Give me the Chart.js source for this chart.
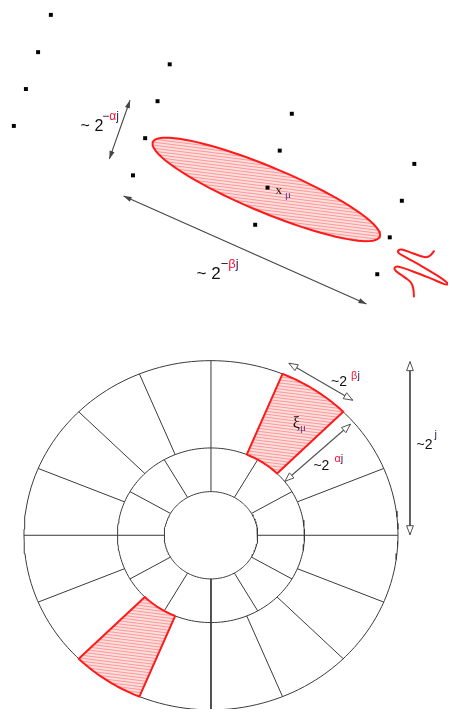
<!DOCTYPE html>
<html>
<head>
<meta charset="utf-8">
<script src="https://cdn.jsdelivr.net/npm/chart.js@4.4.1/dist/chart.umd.min.js"></script>
<style>
  html, body { margin: 0; padding: 0; background: #fff; overflow: hidden; }
  #wrap { width: 452px; height: 713px; }
</style>
</head>
<body>
<div id="wrap"><canvas id="c" width="452" height="713"></canvas></div>
<script>
// ---- Spatial side: sample lattice --------------------------------------
const sampleX = [47.7, 34.7, 22.3, 10.0, 168.7, 156.3, 143.7, 131.3,
                 293.0, 280.7, 268.3, 255.7, 417.7, 405.0, 392.7, 380.0];
const sampleY = [11.0, 48.7, 86.0, 123.3, 61.0, 98.3, 135.7, 173.3,
                 111.0, 148.3, 185.7, 223.3, 161.7, 199.0, 236.0, 273.3];

// Anisotropic atom: centre, half-axes (length, width), tilt in degrees
const atomCenter = [267, 187.5];
const atomAxes = [125, 23];
const atomTilt = 22.5;

// Oscillating profile across the atom
const profileX = [437.7, 435.0, 431.7, 426.7, 416.7, 405.0, 401.7, 401.7, 408.3, 425.0,
                  441.7, 450.0, 451.7, 448.3, 435.0, 415.0, 401.7, 397.7, 399.0, 408.3,
                  414.3, 416.7, 417.3];
const profileY = [250.0, 253.3, 255.7, 255.7, 252.3, 248.3, 249.0, 251.7, 255.7, 265.0,
                  275.0, 281.0, 283.3, 283.3, 277.7, 270.0, 265.7, 266.7, 270.0, 276.7,
                  281.7, 288.3, 295.7];

// ---- Frequency side: dyadic coronae split into angular wedges -----------
const ringRadii = [1, 2, 4];
const wedgesPerRing = [12, 16];
const highlightWedges = [1, 9];        // wedge indices in the outer corona
const tilingCenter = [210.7, 537.3];
const tilingUnit = [47.6, 44.15];

// ---- Annotations -------------------------------------------------------
const arrowsSolid = [[128.3, 97.3, 107.3, 156.7], [121.7, 194.3, 369.0, 303.3]];
const arrowsOpen = [[290.0, 363.3, 355.0, 400.7], [352.7, 425.0, 286.0, 482.7],
                    [413.3, 361.7, 413.3, 536.7]];
const labelBase = ['~ 2', '~ 2', 'x', '~2', '~2', '~2', 'ξ'];
const labelScript = [['−', 'α', 'j'], ['−', 'β', 'j'], ['μ'], ['β', 'j'], ['α', 'j'], ['j'], ['μ']];
const labelAnchorX = [78, 196, 276.5, 333, 315, 420, 294];
const labelAnchorY = [128.5, 278.5, 192.5, 386, 471.5, 450, 429];

// layout for each label: base size, script size, script dx, script dy, family
const labelStyle = [
  [16, 12, -1, -11, 'sans'], [17, 13, 0, -11, 'sans'], [13, 11, 3, 3.5, 'serif'],
  [14, 11, 4, -7, 'sans'], [14, 11, 5, -8.5, 'sans'], [14, 11, 2, -10.5, 'sans'],
  [16, 11, 0, 2.5, 'serif']
];

const RED = '#ff1a1a';
const GRID = '#3a3a3a';

function hatchPattern() {
  const t = document.createElement('canvas');
  t.width = 24; t.height = 3;
  const g = t.getContext('2d');
  g.fillStyle = '#ffdede';
  g.fillRect(0, 0, 24, 3);
  g.strokeStyle = 'rgba(255,110,110,0.8)';
  g.lineWidth = 0.8;
  for (const off of [-3, 0, 3]) {
    g.beginPath();
    g.moveTo(0, off);
    g.lineTo(24, off + 3);
    g.stroke();
  }
  return g.createPattern(t, 'repeat');
}
const hatch = hatchPattern();

function tilingPoint(r, deg) {
  const a = deg * Math.PI / 180;
  return {
    x: tilingCenter[0] + r * tilingUnit[0] * Math.sin(a),
    y: tilingCenter[1] - r * tilingUnit[1] * Math.cos(a)
  };
}

function atomOutline() {
  const pts = [];
  const th = atomTilt * Math.PI / 180;
  for (let d = 0; d <= 360; d += 4) {
    const t = d * Math.PI / 180;
    const u = atomAxes[0] * Math.cos(t), v = atomAxes[1] * Math.sin(t);
    pts.push({ x: atomCenter[0] + u * Math.cos(th) - v * Math.sin(th),
               y: atomCenter[1] + u * Math.sin(th) + v * Math.cos(th) });
  }
  return pts;
}

function wedgeOutline(k) {
  const n = wedgesPerRing[1];
  const a0 = k * 360 / n, a1 = (k + 1) * 360 / n;
  const rIn = ringRadii[1], rOut = ringRadii[2];
  const pts = [];
  for (let i = 0; i <= 12; i++) pts.push(tilingPoint(rIn, a0 + (a1 - a0) * i / 12));
  for (let i = 12; i >= 0; i--) pts.push(tilingPoint(rOut, a0 + (a1 - a0) * i / 12));
  pts.push(pts[0]);
  return pts;
}

// earlier entries are painted last, i.e. on top
const datasets = [];

// samples (on top of everything)
datasets.push({ type: 'scatter', data: sampleX.map((x, i) => ({ x, y: sampleY[i] })),
                pointStyle: 'rect', pointRadius: 2.8, backgroundColor: '#000',
                borderWidth: 0 });
// highlighted wedges (over the grid)
for (const k of highlightWedges) {
  datasets.push({ type: 'line', data: wedgeOutline(k), borderColor: RED, borderWidth: 2,
                  pointRadius: 0, tension: 0, shapeFill: hatch, borderJoinStyle: 'round' });
}
// the atom
datasets.push({ type: 'line', data: atomOutline(), borderColor: RED, borderWidth: 2,
                pointRadius: 0, tension: 0, shapeFill: hatch });
// oscillating profile
datasets.push({ type: 'line', data: profileX.map((x, i) => ({ x, y: profileY[i] })),
                borderColor: RED, borderWidth: 2, pointRadius: 0, tension: 0.4,
                borderCapStyle: 'round' });
// corona boundaries
for (const r of ringRadii) {
  const pts = [];
  for (let d = 0; d <= 360; d += 2) pts.push(tilingPoint(r, d));
  datasets.push({ type: 'line', data: pts, borderColor: GRID, borderWidth: 1,
                  pointRadius: 0, tension: 0 });
}
// wedge spokes
wedgesPerRing.forEach((n, ring) => {
  for (let k = 0; k < n; k++) {
    const a = k * 360 / n;
    datasets.push({ type: 'line',
                    data: [tilingPoint(ringRadii[ring], a), tilingPoint(ringRadii[ring + 1], a)],
                    borderColor: GRID, borderWidth: 1, pointRadius: 0 });
  }
});

// fills closed outlines just before the outline itself is stroked
const shapeFillPlugin = {
  id: 'shapeFill',
  beforeDatasetDraw(chart, args) {
    const ds = chart.data.datasets[args.index];
    if (!ds.shapeFill) return;
    const pts = args.meta.data;
    const ctx = chart.ctx;
    ctx.save();
    ctx.beginPath();
    pts.forEach((p, i) => (i ? ctx.lineTo(p.x, p.y) : ctx.moveTo(p.x, p.y)));
    ctx.closePath();
    ctx.fillStyle = ds.shapeFill;
    ctx.fill();
    ctx.restore();
  }
};

function arrowHead(ctx, x1, y1, x2, y2, open) {
  const a = Math.atan2(y2 - y1, x2 - x1);
  const L = open ? 9 : 8, W = open ? 3.4 : 2.6;
  const bx = x2 - L * Math.cos(a), by = y2 - L * Math.sin(a);
  ctx.beginPath();
  ctx.moveTo(x2, y2);
  ctx.lineTo(bx + W * Math.sin(a), by - W * Math.cos(a));
  ctx.lineTo(bx - W * Math.sin(a), by + W * Math.cos(a));
  ctx.closePath();
  if (open) {
    ctx.fillStyle = '#fff';
    ctx.fill();
    ctx.stroke();
  } else {
    ctx.fill();
  }
}

function scriptColor(s) {
  if (s === 'α' || s === 'β') return '#ff1030';
  if (s === 'j') return '#2a2860';
  if (s === 'μ') return '#5a2f8f';
  return '#1a1a1a';
}

const annotationPlugin = {
  id: 'annotations',
  afterDatasetsDraw(chart) {
    const { ctx, scales: { x, y } } = chart;
    ctx.save();
    ctx.lineJoin = 'miter';
    // double-headed arrows
    const drawArrow = (seg, open, color, width) => {
      const x1 = x.getPixelForValue(seg[0]), y1 = y.getPixelForValue(seg[1]);
      const x2 = x.getPixelForValue(seg[2]), y2 = y.getPixelForValue(seg[3]);
      ctx.strokeStyle = color;
      ctx.fillStyle = color;
      ctx.lineWidth = width;
      ctx.beginPath();
      ctx.moveTo(x1, y1);
      ctx.lineTo(x2, y2);
      ctx.stroke();
      ctx.lineWidth = 1;
      arrowHead(ctx, x1, y1, x2, y2, open);
      arrowHead(ctx, x2, y2, x1, y1, open);
    };
    arrowsSolid.forEach(s => drawArrow(s, false, '#444', 1.1));
    arrowsOpen.forEach((s, i) => drawArrow(s, true, '#505050', i === 2 ? 1.8 : 1.1));

    // labels with superscripts / subscripts
    ctx.textBaseline = 'alphabetic';
    labelBase.forEach((base, i) => {
      const [bs, ss, dx, dy, fam] = labelStyle[i];
      const family = fam === 'serif' ? '"Liberation Serif", "DejaVu Serif", serif'
                                     : '"Liberation Sans", Arial, sans-serif';
      const px = x.getPixelForValue(labelAnchorX[i]);
      const py = y.getPixelForValue(labelAnchorY[i]);
      ctx.font = `${bs}px ${family}`;
      ctx.fillStyle = '#111';
      ctx.fillText(base, px, py);
      let sx = px + ctx.measureText(base).width + dx;
      ctx.font = `${ss}px ${family}`;
      for (const s of labelScript[i]) {
        ctx.fillStyle = scriptColor(s);
        ctx.fillText(s, sx, py + dy);
        sx += ctx.measureText(s).width;
      }
    });
    ctx.restore();
  }
};

new Chart(document.getElementById('c'), {
  type: 'scatter',
  data: { datasets },
  options: {
    responsive: false,
    devicePixelRatio: 1,
    animation: false,
    layout: { padding: 0 },
    plugins: { legend: { display: false }, tooltip: { enabled: false } },
    scales: {
      x: { type: 'linear', min: 0, max: 452, display: false },
      y: { type: 'linear', min: 0, max: 713, reverse: true, display: false }
    },
    elements: { line: { capBezierPoints: false } }
  },
  plugins: [shapeFillPlugin, annotationPlugin]
});
</script>
</body>
</html>
